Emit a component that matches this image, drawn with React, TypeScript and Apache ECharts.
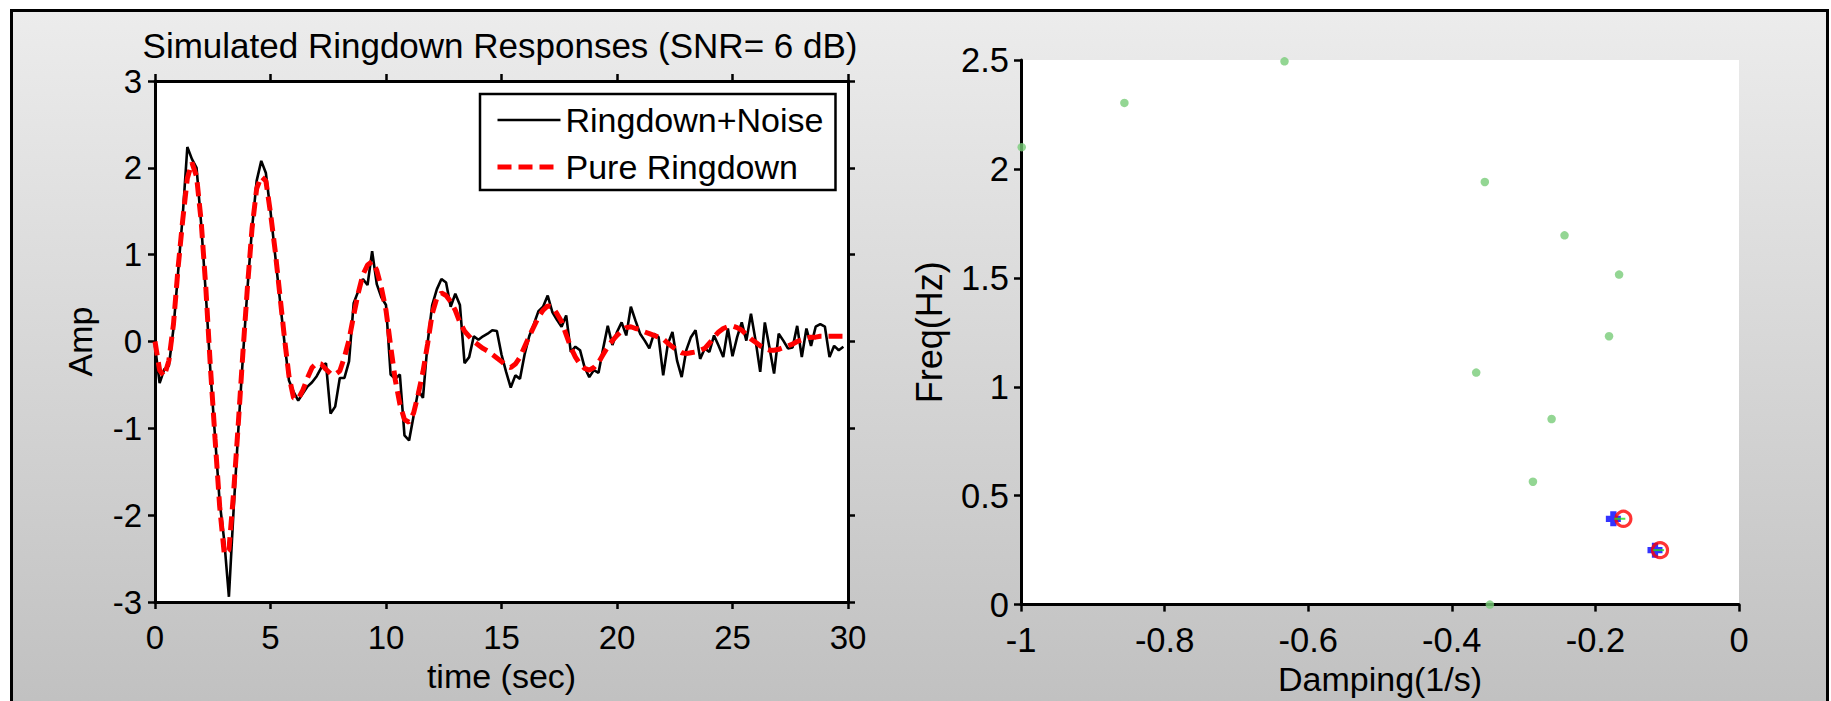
import React, { useEffect, useRef } from "react";
import * as echarts from "echarts";

const FONT = "'Liberation Sans', Arial, sans-serif";

const TITLE = "Simulated Ringdown Responses (SNR= 6 dB)";
const SERIES_NAMES = ["Ringdown+Noise", "Pure Ringdown"];
const TIME_STEP = 0.2; // seconds between samples, first sample at t = 0

// Ringdown + noise, one value every 0.2 s (0 .. 29.8 s)
const NOISY = [
  -0.05, -0.48, -0.32, -0.28, 0.15, 0.8, 1.45, 2.24, 2.1, 2.0,
  1.35, 0.55, -0.35, -1.1, -1.85, -2.3, -2.94, -1.95, -1.05, -0.2,
  0.6, 1.3, 1.85, 2.08, 1.94, 1.5, 1.0, 0.5, 0.0, -0.45,
  -0.58, -0.68, -0.6, -0.52, -0.47, -0.4, -0.3, -0.25, -0.83, -0.75,
  -0.42, -0.42, -0.23, 0.44, 0.58, 0.72, 0.65, 1.04, 0.66, 0.51,
  0.42, -0.38, -0.43, -0.38, -1.08, -1.14, -0.85, -0.56, -0.65, -0.02,
  0.42, 0.6, 0.72, 0.68, 0.4, 0.55, 0.42, -0.25, -0.18, 0.06,
  0.02, 0.06, 0.09, 0.13, 0.12, -0.15, -0.35, -0.53, -0.39, -0.43,
  -0.15, 0.06, 0.2, 0.35, 0.4, 0.53, 0.34, 0.25, 0.17, 0.3,
  -0.12, -0.06, -0.1, -0.3, -0.41, -0.33, -0.36, -0.08, 0.18, -0.04,
  0.11, 0.22, 0.07, 0.4, 0.24, 0.09, 0.01, -0.08, 0.09, 0.05,
  -0.39, -0.03, 0.11, -0.22, -0.41, -0.1, 0.05, 0.13, -0.2, -0.08,
  -0.12, 0.07, -0.05, -0.18, 0.15, -0.17, 0.05, 0.22, 0.01, 0.32,
  0.01, -0.35, 0.22, -0.07, -0.37, 0.09, 0.01, -0.08, -0.07, 0.18,
  -0.18, 0.15, -0.05, 0.17, 0.2, 0.17, -0.18, -0.05, -0.1, -0.06,
];

// Pure ringdown, same sampling
const PURE = [
  0.0, -0.33, -0.4, -0.22, 0.2, 0.85, 1.4, 1.88, 2.06, 1.9,
  1.38, 0.62, -0.3, -1.12, -1.9, -2.45, -2.4, -1.75, -0.97, -0.15,
  0.62, 1.3, 1.76, 1.9, 1.85, 1.48, 1.05, 0.55, 0.05, -0.4,
  -0.65, -0.66, -0.56, -0.42, -0.3, -0.25, -0.26, -0.32, -0.37, -0.38,
  -0.34, -0.18, 0.02, 0.3, 0.56, 0.77, 0.88, 0.92, 0.82, 0.62,
  0.36, -0.05, -0.44, -0.72, -0.9, -0.93, -0.82, -0.6, -0.35, -0.03,
  0.32, 0.5, 0.56, 0.53, 0.46, 0.36, 0.22, 0.12, 0.06, 0.0,
  -0.04, -0.08, -0.11, -0.15, -0.19, -0.23, -0.28, -0.3, -0.26, -0.18,
  -0.06, 0.06, 0.17, 0.28, 0.36, 0.41, 0.4, 0.32, 0.23, 0.08,
  -0.07, -0.18, -0.26, -0.31, -0.33, -0.3, -0.24, -0.15, -0.06, 0.01,
  0.07, 0.12, 0.16, 0.17, 0.15, 0.14, 0.11, 0.09, 0.07, 0.05,
  0.03, -0.02, -0.06, -0.1, -0.13, -0.14, -0.13, -0.12, -0.1, -0.08,
  -0.02, 0.05, 0.11, 0.15, 0.17, 0.18, 0.16, 0.13, 0.08, 0.03,
  -0.01, -0.05, -0.08, -0.1, -0.1, -0.09, -0.07, -0.05, -0.03, 0.0,
  0.02, 0.04, 0.05, 0.05, 0.06, 0.06, 0.06, 0.06, 0.06, 0.06,
];

// Estimated modes: [damping (1/s), frequency (Hz)]
const CANDIDATE_MODES = [
  [-0.633, 2.494], [-0.856, 2.303], [-0.999, 2.1], [-0.354, 1.94],
  [-0.243, 1.695], [-0.167, 1.515], [-0.181, 1.232], [-0.366, 1.065],
  [-0.261, 0.852], [-0.287, 0.564], [-0.347, 0.0],
];
const ESTIMATED_MODES = [[-0.175, 0.394], [-0.117, 0.25]];
const TRUE_MODES = [[-0.161, 0.394], [-0.11, 0.25]];
const LINK_MODES = [[-0.166, 0.394], [-0.112, 0.25]];

const X1_TICKS = { min: 0, max: 30, interval: 5 };
const Y1_TICKS = { min: -3, max: 3, interval: 1 };
const X2_TICKS = { min: -1, max: 0, interval: 0.2 };
const Y2_TICKS = { min: 0, max: 2.5, interval: 0.5 };

const PLUS = "path://M3.5,0H8.5V3.5H12V8.5H8.5V12H3.5V8.5H0V3.5H3.5Z";

export default function App() {
  const ref = useRef<HTMLDivElement>(null);

  useEffect(() => {
    document.body.style.margin = "0";
    const chart = echarts.init(ref.current!, null, { renderer: "svg" });

    const noisyData = NOISY.map((v, i) => [+(i * TIME_STEP).toFixed(1), v]);
    const pureData = PURE.map((v, i) => [+(i * TIME_STEP).toFixed(1), v]);

    const axisLine = { show: true, onZero: false, lineStyle: { color: "#000", width: 3 } };
    const axisTick = { show: true, inside: false, length: 7, lineStyle: { color: "#000", width: 2.5 } };
    const leftLabel = { show: true, color: "#000", fontSize: 33, fontFamily: FONT };
    const rightLabel = { show: true, color: "#000", fontSize: 34.5, fontFamily: FONT };
    const nameStyle = { color: "#000", fontSize: 34, fontFamily: FONT };

    chart.setOption({
      animation: false,
      title: {
        text: TITLE,
        left: 500,
        top: 28,
        textAlign: "center",
        padding: 0,
        textStyle: { color: "#000", fontSize: 35, fontWeight: "normal", fontFamily: FONT },
      },
      legend: {
        orient: "vertical",
        left: 480,
        top: 94,
        padding: [9, 12, 6, 15],
        itemWidth: 63,
        itemHeight: 14,
        itemGap: 13,
        borderColor: "#000",
        borderWidth: 2.5,
        borderRadius: 0,
        backgroundColor: "#fff",
        data: SERIES_NAMES,
        itemStyle: { color: "rgba(0,0,0,0)", borderWidth: 0, opacity: 0 },
        lineStyle: { width: "inherit", type: "inherit", color: "inherit" },
        textStyle: { color: "#000", fontSize: 34, fontFamily: FONT },
      },
      grid: [
        { left: 155, top: 81, width: 693, height: 521, show: true, backgroundColor: "#fff", borderWidth: 0 },
        { left: 1021, top: 60, width: 718, height: 546, show: true, backgroundColor: "#fff", borderWidth: 0 },
      ],
      xAxis: [
        {
          type: "value", gridIndex: 0, position: "bottom", ...X1_TICKS,
          axisLine, axisTick, axisLabel: { ...leftLabel, margin: 18.5 }, splitLine: { show: false },
          name: "time (sec)", nameLocation: "middle", nameGap: 57, nameTextStyle: nameStyle,
        },
        {
          type: "value", gridIndex: 0, position: "top", ...X1_TICKS,
          axisLine, axisTick, axisLabel: { show: false }, splitLine: { show: false },
        },
        {
          type: "value", gridIndex: 1, position: "bottom", ...X2_TICKS,
          axisLine, axisTick, axisLabel: { ...rightLabel, margin: 17.5 }, splitLine: { show: false },
          name: "Damping(1/s)", nameLocation: "middle", nameGap: 57, nameTextStyle: nameStyle,
        },
      ],
      yAxis: [
        {
          type: "value", gridIndex: 0, position: "left", ...Y1_TICKS,
          axisLine, axisTick, axisLabel: { ...leftLabel, margin: 13 }, splitLine: { show: false },
          name: "Amp", nameLocation: "middle", nameGap: 58, nameRotate: 90, nameTextStyle: nameStyle,
        },
        {
          type: "value", gridIndex: 0, position: "right", ...Y1_TICKS,
          axisLine, axisTick, axisLabel: { show: false }, splitLine: { show: false },
        },
        {
          type: "value", gridIndex: 1, position: "left", ...Y2_TICKS,
          axisLine, axisTick, axisLabel: { ...rightLabel, margin: 12 }, splitLine: { show: false },
          name: "Freq(Hz)", nameLocation: "middle", nameGap: 74, nameRotate: 90,
          nameTextStyle: { color: "#000", fontSize: 36, fontFamily: FONT },
        },
      ],
      series: [
        {
          name: SERIES_NAMES[0], type: "line", xAxisIndex: 0, yAxisIndex: 0,
          data: noisyData, symbol: "none", showSymbol: false,
          lineStyle: { color: "#000", width: 2.6 }, itemStyle: { color: "#000" }, z: 2,
        },
        {
          name: SERIES_NAMES[1], type: "line", xAxisIndex: 0, yAxisIndex: 0,
          data: pureData, symbol: "none", showSymbol: false,
          lineStyle: { color: "#ff0000", width: 5, type: [14, 7] }, itemStyle: { color: "#ff0000" }, z: 3,
        },
        {
          name: "Candidate modes", type: "scatter", xAxisIndex: 2, yAxisIndex: 2,
          data: CANDIDATE_MODES, symbol: "circle", symbolSize: 8.5,
          itemStyle: { color: "#78cc78" }, clip: false, z: 2,
        },
        {
          name: "Estimated modes", type: "scatter", xAxisIndex: 2, yAxisIndex: 2,
          data: ESTIMATED_MODES, symbol: PLUS, symbolSize: 15,
          itemStyle: { color: "#0000ff" }, z: 3,
        },
        {
          name: "True modes", type: "scatter", xAxisIndex: 2, yAxisIndex: 2,
          data: TRUE_MODES, symbol: "circle", symbolSize: 15,
          itemStyle: { color: "rgba(0,0,0,0)", borderColor: "#ff0000", borderWidth: 3.2 }, z: 4,
        },
        {
          name: "Mode link", type: "scatter", xAxisIndex: 2, yAxisIndex: 2,
          data: LINK_MODES, symbol: "rect", symbolSize: [11, 2],
          itemStyle: { color: "#22dd22" }, z: 5,
        },
      ],
    });

    return () => chart.dispose();
  }, []);

  return (
    <div style={{ position: "absolute", left: 0, top: 0, width: 1831, height: 701, background: "#fff", overflow: "hidden" }}>
      <div
        style={{
          position: "absolute", left: 10, top: 9, width: 1813, height: 720,
          borderLeft: "3px solid #000", borderTop: "3px solid #000", borderRight: "3px solid #000",
          background: "linear-gradient(#ececec, #bfbfbf)",
        }}
      />
      <div ref={ref} style={{ position: "absolute", left: 0, top: 0, width: 1831, height: 701 }} />
    </div>
  );
}
